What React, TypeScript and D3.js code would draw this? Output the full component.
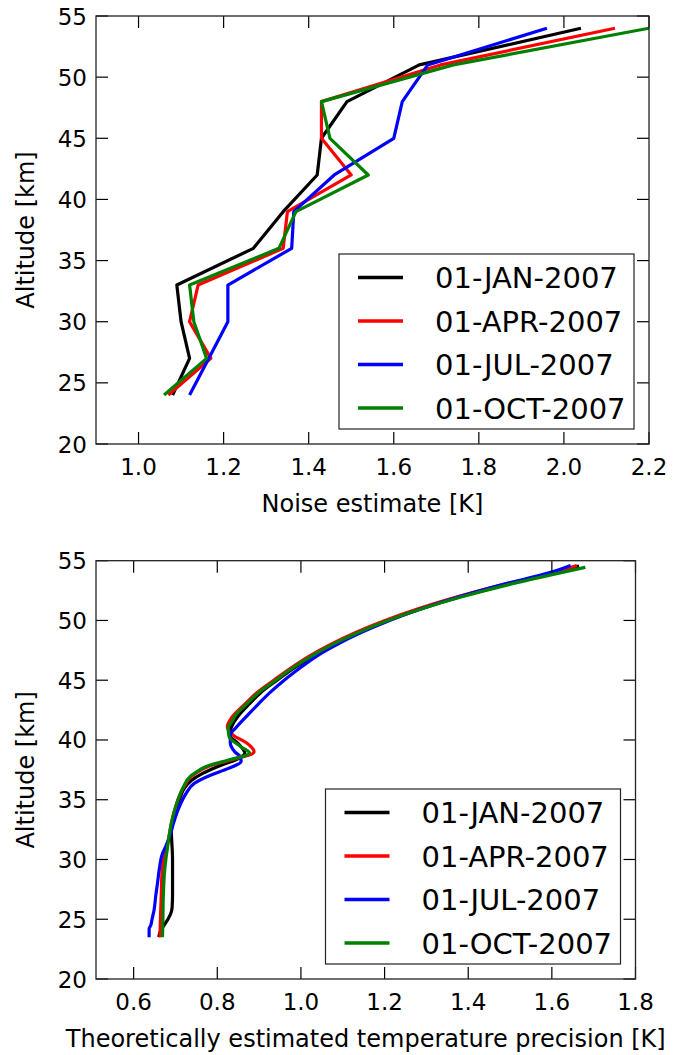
import React from "react";
import * as d3 from "d3";

// ---------- DATA ----------
const SERIES_NAMES = ["01-JAN-2007", "01-APR-2007", "01-JUL-2007", "01-OCT-2007"];
const SERIES_COLORS = ["#000000", "#ff0000", "#0000ff", "#008000"];

// Top panel: noise estimate [K] vs altitude [km]
const ALT_TOP = [24, 27, 30, 33, 36, 39, 42, 45, 48, 51, 54];
const NOISE_JAN = [1.08, 1.12, 1.1, 1.09, 1.27, 1.34, 1.42, 1.43, 1.49, 1.66, 2.04];
const NOISE_APR = [1.07, 1.17, 1.12, 1.14, 1.34, 1.35, 1.5, 1.43, 1.43, 1.71, 2.12];
const NOISE_JUL = [1.12, 1.165, 1.21, 1.21, 1.36, 1.365, 1.46, 1.6, 1.62, 1.68, 1.96];
const NOISE_OCT = [1.06, 1.16, 1.13, 1.12, 1.33, 1.37, 1.54, 1.45, 1.43, 1.74, 2.2];

// Bottom panel: theoretical precision [K] vs altitude [km]
const ALT_JAN = [23.5, 24, 24.5, 25, 25.5, 26, 27, 28, 29, 30, 31, 31.6, 32.5, 33, 34, 35, 36, 36.6, 37.2, 37.8, 38.4, 38.9, 39.2, 39.7, 40.4, 41, 42, 43, 44, 45, 46, 47, 48, 49, 50, 51, 52, 53, 54, 54.55];
const PREC_JAN = [0.66, 0.664, 0.673, 0.682, 0.689, 0.692, 0.693, 0.693, 0.693, 0.693, 0.692, 0.691, 0.69, 0.692, 0.699, 0.709, 0.722, 0.738, 0.765, 0.803, 0.848, 0.866, 0.862, 0.85, 0.83, 0.833, 0.85, 0.876, 0.905, 0.943, 0.983, 1.027, 1.078, 1.138, 1.208, 1.289, 1.383, 1.49, 1.61, 1.665];
const ALT_APR = [23.5, 25, 27, 29, 30, 31, 32, 33, 34, 35, 36, 37, 37.5, 37.8, 38.3, 39.0, 39.7, 40.4, 41.1, 41.9, 43, 44, 45, 46, 47, 48, 49, 50, 51, 52, 53, 54, 54.6];
const PREC_APR = [0.663, 0.664, 0.666, 0.668, 0.672, 0.679, 0.685, 0.69, 0.697, 0.706, 0.719, 0.74, 0.762, 0.78, 0.83, 0.888, 0.872, 0.838, 0.824, 0.835, 0.866, 0.896, 0.935, 0.975, 1.019, 1.071, 1.131, 1.201, 1.282, 1.376, 1.483, 1.603, 1.66];
const ALT_JUL = [23.5, 24.2, 24.5, 25, 25.8, 27, 28, 29.1, 30.5, 31.2, 31.9, 33, 34.4, 35.5, 36.37, 37.07, 37.6, 38.2, 38.6, 39.0, 39.8, 40.4, 41, 42.2, 43, 44, 45, 46, 47, 48, 49, 50, 51, 52, 53, 54, 54.6];
const PREC_JUL = [0.637, 0.637, 0.641, 0.644, 0.649, 0.653, 0.657, 0.661, 0.669, 0.678, 0.686, 0.695, 0.709, 0.725, 0.745, 0.785, 0.825, 0.857, 0.855, 0.842, 0.831, 0.831, 0.844, 0.876, 0.898, 0.927, 0.96, 0.997, 1.037, 1.087, 1.145, 1.212, 1.29, 1.38, 1.482, 1.595, 1.645];
const ALT_OCT = [23.5, 25, 27, 29, 30, 31, 32, 33, 34, 35, 36, 37, 37.5, 37.8, 38.3, 38.9, 39.4, 40.3, 41, 41.6, 42, 43, 44, 45, 46, 47, 48, 49, 50, 51, 52, 53, 54, 54.45];
const PREC_OCT = [0.669, 0.67, 0.671, 0.674, 0.677, 0.681, 0.685, 0.69, 0.697, 0.706, 0.718, 0.737, 0.758, 0.775, 0.825, 0.877, 0.858, 0.828, 0.826, 0.836, 0.842, 0.87, 0.9, 0.94, 0.979, 1.024, 1.076, 1.137, 1.208, 1.291, 1.387, 1.497, 1.622, 1.68];

const Y_TICKS = [20, 25, 30, 35, 40, 45, 50, 55];
const X_TICKS_TOP = [1.0, 1.2, 1.4, 1.6, 1.8, 2.0, 2.2];
const X_TICKS_BOTTOM = [0.6, 0.8, 1.0, 1.2, 1.4, 1.6, 1.8];

const FONT = "'DejaVu Sans', sans-serif";

type Series = { alt: number[]; val: number[] };

function Panel(props: {
  x: d3.ScaleLinear<number, number>;
  y: d3.ScaleLinear<number, number>;
  xTicks: number[];
  series: Series[];
  xLabel: string;
  clipId: string;
  smooth: boolean;
}) {
  const { x, y, xTicks, series, xLabel, clipId, smooth } = props;
  const [x0, x1] = x.range();
  const [y0, y1] = y.range(); // y0 bottom, y1 top
  const tickLen = 12;
  const fmt = d3.format(".1f");
  const line = (s: Series) =>
    d3
      .line<number>()
      .x((_, i) => x(s.val[i]))
      .y((a) => y(a))
      .curve(smooth ? d3.curveMonotoneY : d3.curveLinear)(s.alt) || "";
  const legW = 295;
  const legH = 175;
  const legX = x1 - 15 - legW;
  const legY = y0 - 15 - legH;
  const rowH = 43.5;
  return (
    <g>
      <defs>
        <clipPath id={clipId}>
          <rect x={x0} y={y1} width={x1 - x0} height={y0 - y1} />
        </clipPath>
      </defs>
      <g clipPath={`url(#${clipId})`}>
        {series.map((s, i) => (
          <path
            key={i}
            d={line(s)}
            fill="none"
            stroke={SERIES_COLORS[i]}
            strokeWidth={3.2}
            strokeLinejoin="round"
            strokeLinecap="butt"
          />
        ))}
      </g>
      {/* ticks */}
      {xTicks.map((t) => (
        <g key={"xt" + t}>
          <line x1={x(t)} x2={x(t)} y1={y0} y2={y0 - tickLen} stroke="#000" strokeWidth={1.2} />
          <line x1={x(t)} x2={x(t)} y1={y1} y2={y1 + tickLen} stroke="#000" strokeWidth={1.2} />
          <text x={x(t)} y={y0 + 31} textAnchor="middle" fontFamily={FONT} fontSize={23} fill="#000">
            {fmt(t)}
          </text>
        </g>
      ))}
      {Y_TICKS.map((t) => (
        <g key={"yt" + t}>
          <line x1={x0} x2={x0 + tickLen} y1={y(t)} y2={y(t)} stroke="#000" strokeWidth={1.2} />
          <line x1={x1} x2={x1 - tickLen} y1={y(t)} y2={y(t)} stroke="#000" strokeWidth={1.2} />
          <text x={x0 - 9} y={y(t) + 8.5} textAnchor="end" fontFamily={FONT} fontSize={23} fill="#000">
            {t}
          </text>
        </g>
      ))}
      <rect x={x0} y={y1} width={x1 - x0} height={y0 - y1} fill="none" stroke="#222" strokeWidth={1.3} />
      {/* axis labels */}
      <text x={(x0 + x1) / 2} y={y0 + 68} textAnchor="middle" fontFamily={FONT} fontSize={24} fill="#000">
        {xLabel}
      </text>
      <text
        transform={`translate(34,${(y0 + y1) / 2}) rotate(-90)`}
        textAnchor="middle"
        fontFamily={FONT}
        fontSize={24}
        fill="#000"
      >
        Altitude [km]
      </text>
      {/* legend */}
      <rect x={legX} y={legY} width={legW} height={legH} fill="#fff" stroke="#222" strokeWidth={1.2} />
      {SERIES_NAMES.map((n, i) => {
        const cy = legY + 23.5 + i * rowH;
        return (
          <g key={n}>
            <line x1={legX + 19} x2={legX + 64} y1={cy} y2={cy} stroke={SERIES_COLORS[i]} strokeWidth={3.5} />
            <text x={legX + 96} y={cy + 10.5} fontFamily={FONT} fontSize={29} fill="#000">
              {n}
            </text>
          </g>
        );
      })}
    </g>
  );
}

export default function App() {
  const xTop = d3.scaleLinear().domain([0.9, 2.2]).range([96, 649]);
  const yTop = d3.scaleLinear().domain([20, 55]).range([444, 16]);
  const xBot = d3.scaleLinear().domain([0.51, 1.8]).range([96, 635.5]);
  const yBot = d3.scaleLinear().domain([20, 55]).range([979, 560.7]);

  const topSeries: Series[] = [NOISE_JAN, NOISE_APR, NOISE_JUL, NOISE_OCT].map((v) => ({ alt: ALT_TOP, val: v }));
  const botSeries: Series[] = [
    { alt: ALT_JAN, val: PREC_JAN },
    { alt: ALT_APR, val: PREC_APR },
    { alt: ALT_JUL, val: PREC_JUL },
    { alt: ALT_OCT, val: PREC_OCT },
  ];

  return (
    <svg
      width={673}
      height={1055}
      style={{ position: "absolute", left: 0, top: 0, display: "block", background: "#fff" }}
    >
      <rect x={0} y={0} width={673} height={1055} fill="#fff" />
      <Panel x={xTop} y={yTop} xTicks={X_TICKS_TOP} series={topSeries} xLabel="Noise estimate [K]" clipId="clipTop" smooth={false} />
      <Panel
        x={xBot}
        y={yBot}
        xTicks={X_TICKS_BOTTOM}
        series={botSeries}
        xLabel="Theoretically estimated temperature precision [K]"
        clipId="clipBot"
        smooth={true}
      />
    </svg>
  );
}
